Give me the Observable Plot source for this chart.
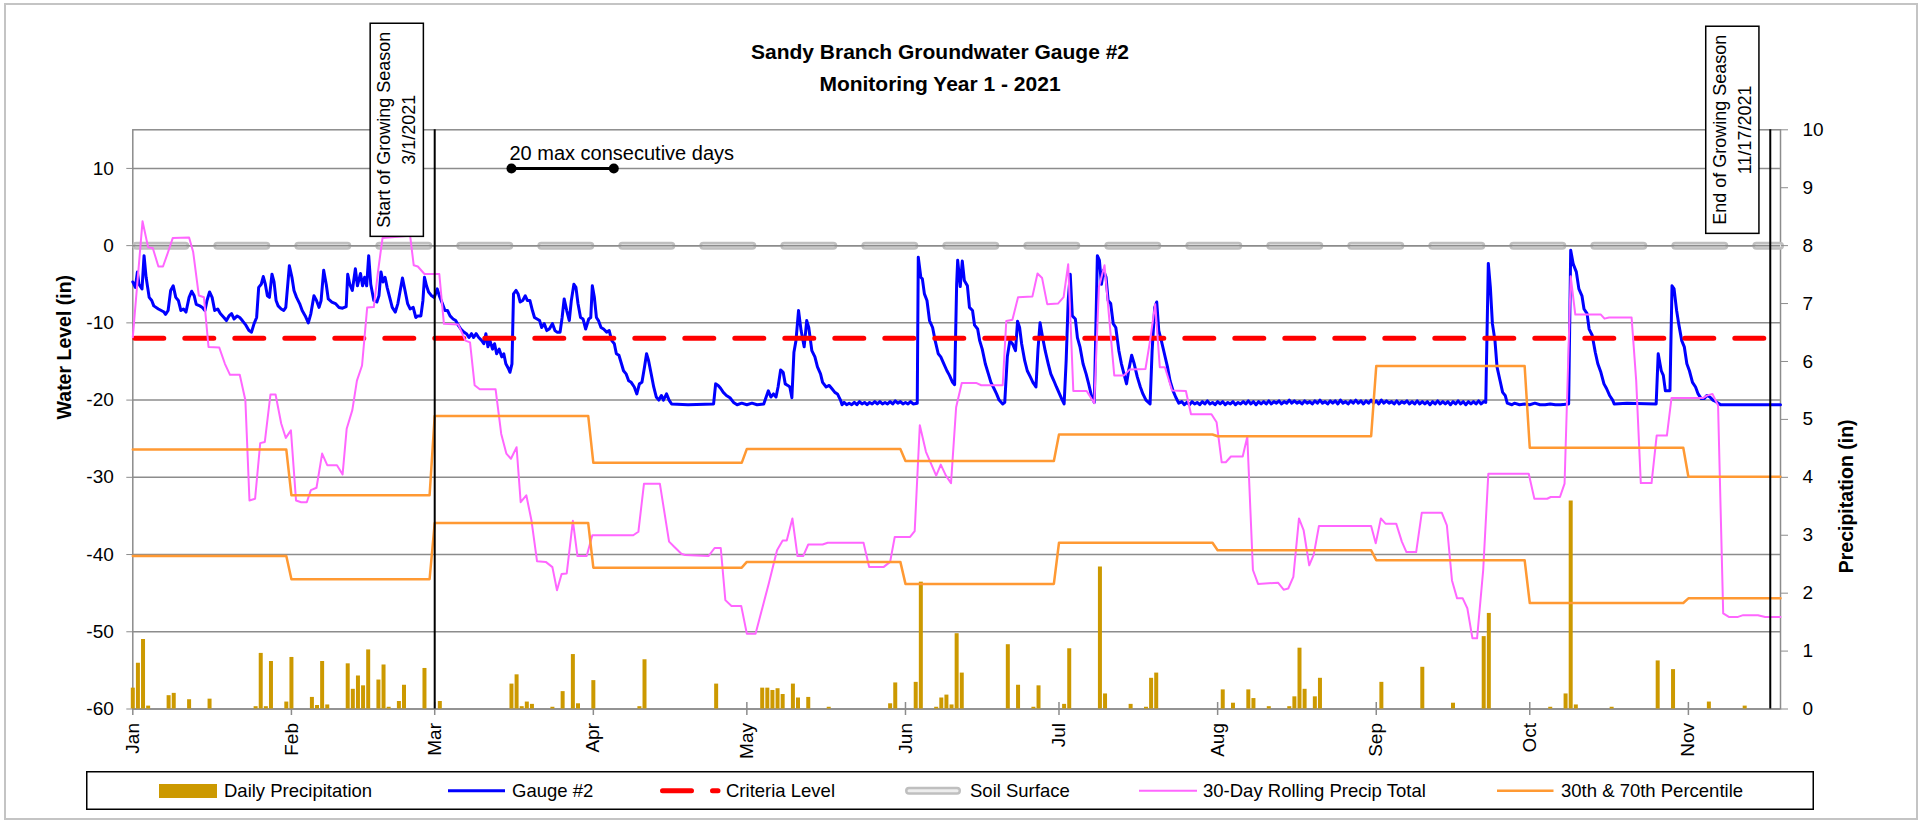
<!DOCTYPE html>
<html>
<head>
<meta charset="utf-8">
<script src="https://cdn.jsdelivr.net/npm/d3@7"></script>
<script src="https://cdn.jsdelivr.net/npm/@observablehq/plot@0.6"></script>
<style>
  html, body { margin: 0; padding: 0; background: #fff; }
  #chart { position: relative; width: 1927px; height: 821px; overflow: hidden; font-family: "Liberation Sans", Arial, sans-serif; }
  #plot { position: absolute; left: 0; top: 0; }
  #title { position: absolute; left: 640px; top: 36px; width: 600px; text-align: center; font-weight: bold; font-size: 21px; line-height: 32px; color: #000; }
  #legend { position: absolute; left: 86px; top: 771px; overflow: visible; }
  #border { position: absolute; left: 4px; top: 3px; width: 1910px; height: 813px; border: 2px solid #c4c4c4; pointer-events: none; }
</style>
</head>
<body>
<div id="chart">
  <div id="plot"></div>
  <div id="title">Sandy Branch Groundwater Gauge #2<br>Monitoring Year 1 - 2021</div>
  <svg id="legend" width="1728" height="39"></svg>
  <div id="border"></div>
</div>
<script>
// ---------------- DATA ----------------
// day = days since Jan 1, 2021
const leftTicks = [-60, -50, -40, -30, -20, -10, 0, 10];
const rightTicks = [0, 1, 2, 3, 4, 5, 6, 7, 8, 9, 10];
const monthStarts = ["2021-01-01","2021-02-01","2021-03-01","2021-04-01","2021-05-01","2021-06-01",
                     "2021-07-01","2021-08-01","2021-09-01","2021-10-01","2021-11-01"];
const soilSurface = 0;       // in
const criteriaLevel = -12;   // in
const seasonDates = ["2021-03-01", "2021-11-17"];
const seasonLabels = ["Start of Growing Season\n3/1/2021", "End of Growing Season\n11/17/2021"];
const consecStart = "2021-03-16", consecEnd = "2021-04-05", consecLevel = 10;
const consecLabel = "20 max consecutive days";

// Gauge #2 water level (in): [day, level]
const gaugeReadings = [
[0,-4.7],[0.5,-5.4],[0.9,-3.4],[1.2,-5.0],[1.8,-5.6],[2.2,-1.3],[2.6,-4.1],[3.2,-6.7],[3.7,-7.1],[4.1,-7.8],
[5.0,-8.2],[6.1,-8.6],[6.4,-8.9],[6.9,-8.4],[7.4,-5.8],[7.9,-5.2],[8.4,-6.7],[8.9,-7.1],[9.4,-8.4],[9.9,-8.2],
[10.4,-8.6],[11.0,-6.7],[11.5,-5.9],[12.0,-6.5],[12.4,-7.6],[13.1,-7.8],[13.6,-8.0],[14.1,-8.4],[14.5,-7.1],[15.0,-6.0],
[15.5,-6.7],[16.0,-8.4],[16.6,-8.2],[17.1,-8.8],[17.8,-9.3],[18.3,-9.7],[18.8,-9.1],[19.3,-8.8],[19.8,-9.5],[20.4,-9.1],
[20.9,-9.3],[21.4,-9.7],[22.1,-10.3],[22.7,-11.0],[23.2,-11.2],[23.7,-10.1],[24.2,-9.3],[24.6,-5.4],[25.1,-5.0],[25.5,-4.0],
[25.9,-5.0],[26.3,-6.5],[26.7,-6.7],[27.2,-3.7],[27.6,-4.7],[28.0,-7.1],[28.4,-7.8],[29.0,-8.2],[29.5,-8.4],[29.9,-8.0],
[30.6,-2.6],[31.1,-4.1],[31.5,-5.8],[32.0,-6.7],[32.6,-7.5],[33.1,-8.4],[33.7,-9.1],[34.3,-10.0],[34.8,-8.8],[35.4,-6.5],
[35.9,-7.1],[36.4,-8.0],[36.8,-7.1],[37.3,-3.2],[37.8,-5.0],[38.2,-6.9],[38.9,-7.3],[39.6,-7.5],[40.3,-8.0],[41.0,-8.1],
[41.7,-7.9],[42.0,-3.7],[42.4,-5.0],[42.9,-5.8],[43.5,-3.0],[43.9,-5.2],[44.5,-3.6],[44.9,-5.2],[45.3,-4.1],[45.7,-5.2],
[46.1,-1.3],[46.5,-5.0],[47.1,-7.1],[47.7,-7.3],[48.1,-6.5],[48.5,-3.4],[48.9,-4.7],[49.3,-4.1],[49.7,-5.4],[50.2,-6.7],
[50.7,-8.0],[51.3,-8.6],[51.8,-7.5],[52.7,-4.2],[53.2,-5.8],[53.7,-7.5],[54.2,-8.2],[54.8,-8.0],[55.3,-9.3],[55.7,-9.1],
[56.3,-9.1],[56.7,-7.1],[57.0,-4.1],[57.4,-5.2],[57.8,-6.0],[58.4,-6.5],[58.9,-6.7],[59.5,-5.6],[59.9,-6.5],[60.5,-7.5],
[61.0,-8.4],[61.5,-8.4],[62.0,-9.1],[62.6,-9.5],[63.1,-9.7],[63.6,-10.3],[64.1,-10.8],[64.7,-11.2],[65.2,-11.4],[65.7,-11.9],
[66.2,-11.4],[66.6,-11.9],[67.1,-11.4],[67.6,-11.9],[68.2,-12.3],[68.6,-12.7],[69.0,-11.4],[69.4,-13.1],[69.8,-12.3],[70.3,-13.4],
[70.7,-12.7],[71.1,-14.0],[71.6,-13.4],[72.1,-14.4],[72.5,-14.0],[72.9,-15.3],[73.4,-15.9],[73.7,-16.4],[74.1,-15.3],[74.4,-6.25],
[74.9,-5.8],[75.3,-6.25],[75.7,-7.3],[76.2,-7.1],[76.7,-6.5],[77.1,-7.1],[77.6,-7.1],[78.1,-8.4],[78.5,-9.3],[79.0,-9.5],
[79.5,-9.7],[79.9,-10.6],[80.4,-10.1],[80.9,-11.0],[81.4,-10.8],[82.0,-10.1],[82.5,-11.0],[82.9,-11.2],[83.5,-11.2],[83.9,-9.3],
[84.3,-6.9],[84.8,-8.4],[85.3,-9.7],[85.7,-7.1],[86.2,-5.0],[86.6,-5.4],[87.0,-7.5],[87.5,-9.3],[88.0,-9.5],[88.5,-10.8],
[89.1,-9.5],[89.5,-9.3],[89.8,-5.2],[90.2,-6.7],[90.6,-9.3],[91.0,-9.7],[91.5,-10.6],[92.0,-10.8],[92.6,-11.2],[93.1,-11.0],
[93.6,-12.3],[94.1,-12.7],[94.5,-14.0],[95.0,-14.2],[95.5,-15.3],[95.9,-16.2],[96.4,-16.6],[96.9,-17.5],[97.4,-17.7],[98.0,-18.3],
[98.5,-19.2],[99.0,-17.9],[99.5,-17.7],[100.0,-15.7],[100.4,-14.0],[100.8,-14.9],[101.3,-16.6],[101.8,-18.3],[102.3,-19.6],[102.8,-20.0],
[103.3,-19.4],[103.7,-20.0],[104.3,-19.2],[104.8,-20.0],[105.3,-20.5],[108.5,-20.6],[113.5,-20.5],[113.9,-17.9],[114.4,-18.1],[114.9,-18.5],
[115.4,-19.0],[116.0,-19.4],[116.7,-19.7],[117.4,-20.3],[118.1,-20.6],[119,-20.4],[120,-20.6],[121,-20.4],[122,-20.6],[123.3,-20.5],
[124.2,-18.8],[124.7,-19.6],[125.2,-19.2],[125.7,-19.6],[126.1,-18.3],[126.6,-16.1],[127.1,-16.4],[127.5,-17.9],[128.0,-18.1],[128.4,-18.3],
[128.8,-19.7],[129.2,-13.8],[129.6,-12.3],[130.1,-8.4],[130.6,-11.0],[131.2,-13.1],[131.7,-9.7],[132.1,-10.6],[132.7,-13.6],[133.3,-14.4],
[133.8,-15.7],[134.4,-16.6],[134.8,-17.7],[135.5,-18.3],[136.1,-18.1],[136.6,-18.5],[137.2,-19.0],[137.7,-19.2],[138.3,-20.0],[138.6,-20.6],
[139,-20.3],[139.5,-20.6],[140,-20.4],[140.5,-20.6],[141,-20.3],[141.5,-20.6],[142,-20.2],[142.5,-20.5],[143,-20.3],[143.5,-20.6],
[144,-20.3],[144.5,-20.5],[145,-20.2],[145.5,-20.5],[146,-20.2],[146.5,-20.5],[147,-20.3],[147.5,-20.5],[148,-20.2],[148.5,-20.5],
[149,-20.1],[149.5,-20.4],[150,-20.2],[150.5,-20.5],[151,-20.3],[151.5,-20.5],[152,-20.2],[152.5,-20.5],[153.3,-20.4],[153.5,-1.5],
[154.0,-4.1],[154.3,-4.3],[154.7,-6.25],[155.2,-7.1],[155.7,-9.7],[156.3,-10.6],[156.8,-12.3],[157.4,-14.0],[157.9,-14.4],[158.5,-15.3],
[159.1,-16.2],[159.6,-16.8],[160.2,-17.7],[160.6,-18.0],[161.0,-5.0],[161.2,-1.9],[161.4,-3.2],[161.7,-5.3],[162.1,-2.0],[162.5,-4.5],
[163.1,-5.2],[163.5,-8.0],[164.1,-8.4],[164.5,-10.3],[165.1,-10.8],[165.5,-12.3],[166.0,-13.4],[166.6,-15.3],[167.2,-16.6],[167.7,-17.7],
[168.3,-18.5],[168.8,-19.2],[169.3,-20.0],[170.0,-20.5],[170.4,-20.3],[170.9,-14.4],[171.4,-12.3],[171.9,-12.7],[172.5,-13.6],[172.9,-9.8],
[173.3,-10.6],[173.7,-12.7],[174.3,-14.9],[174.8,-16.2],[175.4,-17.0],[175.9,-17.7],[176.5,-18.3],[176.9,-13.4],[177.3,-10.0],[177.8,-11.9],
[178.3,-13.6],[178.9,-15.3],[179.4,-16.6],[180.0,-17.5],[180.5,-18.3],[181.1,-19.2],[181.5,-19.8],[182.0,-20.5],[182.4,-14.9],[182.8,-7.1],
[183.2,-3.7],[183.6,-9.1],[184.2,-9.5],[184.6,-11.9],[185.1,-13.1],[185.7,-15.3],[186.3,-16.6],[186.8,-17.9],[187.4,-19.6],[187.9,-20.3],
[188.5,-1.3],[188.9,-1.9],[189.3,-5.0],[189.7,-3.2],[190.2,-4.1],[190.6,-7.1],[191.1,-7.5],[191.6,-10.1],[192.1,-10.6],[192.7,-13.6],
[193.2,-15.3],[193.7,-16.6],[194.2,-17.9],[194.6,-16.2],[195.2,-14.2],[195.7,-15.3],[196.3,-17.0],[196.9,-18.3],[197.4,-19.2],[198.0,-20.0],
[198.8,-20.5],[199.2,-13.6],[199.7,-8.0],[200.1,-7.3],[200.5,-11.0],[201.0,-12.3],[201.6,-14.0],[202.2,-15.7],[202.7,-17.5],[203.3,-18.8],
[203.8,-19.6],[204.4,-20.4],
[205,-20.2],[205.5,-20.6],[206,-20.3],[206.5,-20.6],[207,-20.2],[207.5,-20.5],[208,-20.3],[208.5,-20.6],[209,-20.2],[209.5,-20.5],
[210,-20.1],[210.5,-20.5],[211,-20.3],[211.5,-20.6],[212,-20.2],[212.5,-20.5],[213,-20.2],[213.5,-20.6],[214,-20.3],[214.5,-20.5],
[215,-20.2],[215.5,-20.6],[216,-20.3],[216.5,-20.5],[217,-20.2],[217.5,-20.5],[218,-20.1],[218.5,-20.5],[219,-20.2],[219.5,-20.6],
[220,-20.2],[220.5,-20.5],[221,-20.2],[221.5,-20.5],[222,-20.1],[222.5,-20.5],[223,-20.2],[223.5,-20.4],[224,-20.1],[224.5,-20.5],
[225,-20.2],[225.5,-20.4],[226,-20.0],[226.5,-20.4],[227,-20.1],[227.5,-20.4],[228,-20.2],[228.5,-20.5],[229,-20.1],[229.5,-20.4],
[230,-20.2],[230.5,-20.5],[231,-20.1],[231.5,-20.4],[232,-20.0],[232.5,-20.4],[233,-20.2],[233.5,-20.5],[234,-20.1],[234.5,-20.4],
[235,-20.1],[235.5,-20.5],[236,-20.0],[236.5,-20.4],[237,-20.2],[237.5,-20.5],[238,-20.1],[238.5,-20.4],[239,-20.0],[239.5,-20.4],
[240,-20.1],[240.5,-20.5],[241,-20.1],[241.5,-20.4],[242,-20.0],[242.5,-20.4],[243,-20.1],[243.5,-20.5],[244,-20.0],[244.5,-20.4],
[245,-20.1],[245.5,-20.4],[246,-20.2],[246.5,-20.5],[247,-20.1],[247.5,-20.5],[248,-20.2],[248.5,-20.4],[249,-20.1],[249.5,-20.5],
[250,-20.2],[250.5,-20.5],[251,-20.1],[251.5,-20.5],[252,-20.2],[252.5,-20.5],[253,-20.2],[253.5,-20.6],[254,-20.2],[254.5,-20.5],
[255,-20.1],[255.5,-20.5],[256,-20.2],[256.5,-20.5],[257,-20.2],[257.5,-20.6],[258,-20.2],[258.5,-20.5],[259,-20.1],[259.5,-20.5],
[260,-20.2],[260.5,-20.6],[261,-20.2],[261.5,-20.5],[262,-20.2],[262.5,-20.5],[263,-20.1],[263.5,-20.5],[264,-20.2],[264.4,-20.3],
[264.9,-2.3],[265.3,-5.4],[265.7,-10.1],[266.2,-12.3],[266.6,-15.7],[267.2,-17.5],[267.7,-19.0],[268.2,-19.4],[268.6,-20.4],[269.5,-20.6],
[270,-20.4],[271,-20.6],[272,-20.5],[273,-20.6],[274,-20.4],[275,-20.6],[276,-20.6],[277,-20.5],[278,-20.6],[279,-20.6],
[280.6,-20.5],[281.0,-0.6],[281.5,-2.4],[282.1,-3.4],[282.6,-5.6],[283.2,-6.5],[283.6,-8.2],[284.2,-8.8],[284.6,-10.8],[285.2,-11.6],
[285.8,-13.8],[286.3,-15.3],[286.9,-16.4],[287.5,-17.9],[288.0,-18.5],[288.6,-19.4],[289.2,-20.0],[289.5,-20.5],[292,-20.4],[297.7,-20.5],
[298.1,-14.0],[298.7,-16.2],[299.1,-16.8],[299.5,-18.8],[300.4,-18.8],[300.8,-5.2],[301.2,-5.6],[301.7,-8.4],[302.1,-10.1],[302.7,-12.3],
[303.2,-13.1],[303.7,-15.3],[304.2,-16.2],[304.8,-17.7],[305.4,-18.3],[305.9,-19.2],[306.5,-19.8],[307.1,-19.8],[307.6,-19.4],[308.2,-19.6],
[308.8,-20.0],[309.4,-20.2],[310.3,-20.6],[322,-20.6]
];

// 30-Day rolling precipitation total (in): [day, total]
const rollingReadings = [
[0,6.42],[1.9,8.42],[3.0,7.97],[3.9,7.96],[5.0,7.64],[5.9,7.64],[6.9,7.89],[7.8,8.13],[11.0,8.14],[11.8,7.89],
[12.9,7.14],[13.9,7.11],[14.8,6.25],[16.9,6.24],[18.0,5.96],[19.0,5.77],[20.9,5.77],[22.0,5.33],[22.8,3.60],[23.9,3.63],
[24.9,4.59],[25.8,4.61],[26.9,5.43],[27.9,5.43],[29.0,4.93],[29.9,4.68],[30.9,4.81],[31.9,3.60],[32.9,3.57],[34.0,3.57],
[34.8,3.78],[35.9,3.82],[37.0,4.41],[38.0,4.21],[39.9,4.21],[41.0,4.05],[41.8,4.84],[42.9,5.16],[43.8,5.67],[44.8,5.93],
[45.8,6.93],[47.1,6.94],[47.9,7.54],[48.8,8.13],[54.2,8.17],[54.9,7.66],[55.7,7.64],[57.0,7.51],[59.9,7.51],[60.8,6.65],
[63.6,6.64],[65.0,6.36],[65.9,6.33],[66.8,5.59],[67.8,5.52],[70.9,5.52],[72.0,4.75],[73.0,4.41],[73.9,4.32],[75.0,4.52],
[75.8,3.57],[76.9,3.69],[77.9,3.26],[79.0,2.55],[80.7,2.54],[82.0,2.45],[82.9,2.05],[83.8,2.33],[84.8,2.34],[86.0,3.25],
[86.9,2.64],[88.7,2.64],[89.8,3.00],[97.8,3.00],[98.8,3.06],[99.9,3.89],[103.0,3.89],[104.8,2.89],[105.8,2.80],[107.2,2.68],
[107.9,2.66],[112.5,2.64],[113.7,2.78],[114.9,2.78],[115.8,1.88],[117.0,1.78],[118.9,1.78],[120.0,1.30],[121.7,1.30],[124.3,2.17],
[125.9,2.74],[127.0,2.91],[127.8,2.91],[128.9,3.29],[129.9,2.64],[131.0,2.64],[132.0,2.84],[134.8,2.84],[135.8,2.87],[142.8,2.87],
[143.9,2.45],[146.7,2.45],[148.0,2.54],[148.9,2.97],[151.9,2.97],[152.8,3.07],[153.8,4.90],[155.0,4.44],[157.0,4.03],[157.9,4.22],
[158.9,4.03],[159.9,3.90],[160.9,5.21],[162.0,5.63],[164.8,5.63],[165.8,5.59],[170.0,5.59],[170.7,6.70],[171.9,6.72],[173.0,7.11],
[175.8,7.12],[176.8,7.52],[177.7,7.44],[178.7,6.99],[180.8,7.00],[181.9,7.11],[182.8,7.68],[183.8,5.49],[186.4,5.49],[187.9,5.28],
[188.8,7.28],[189.9,7.66],[191.8,5.76],[193.7,5.76],[194.8,5.86],[197.9,5.87],[198.8,6.36],[199.8,6.99],[200.7,5.90],[201.7,5.90],
[203.1,5.50],[205.8,5.49],[206.8,5.09],[210.8,5.09],[211.8,4.95],[212.8,4.26],[213.6,4.26],[214.6,4.36],[216.9,4.36],[217.8,4.70],
[218.9,2.40],[219.9,2.16],[223.8,2.18],[224.9,2.06],[225.8,2.08],[226.8,2.28],[227.9,3.29],[228.8,3.09],[229.9,2.48],[230.8,2.67],
[231.8,3.16],[242.0,3.16],[242.9,2.86],[243.9,3.29],[244.8,3.20],[246.9,3.20],[248.0,2.89],[248.9,2.71],[250.8,2.71],[251.9,3.39],
[255.8,3.39],[256.8,3.17],[257.8,2.22],[258.8,1.91],[259.9,1.91],[260.8,1.74],[261.8,1.22],[262.7,1.22],[263.9,2.40],[264.9,4.06],
[272.8,4.06],[273.9,3.63],[276.4,3.63],[277.1,3.66],[278.9,3.66],[279.8,3.89],[281.0,7.47],[281.9,6.81],[286.9,6.81],[287.6,6.74],
[288.5,6.76],[292.9,6.76],[293.8,5.67],[294.7,3.90],[296.8,3.90],[297.8,4.72],[299.8,4.72],[300.7,5.37],[306.9,5.37],[307.6,5.41],
[308.7,5.44],[309.8,5.24],[310.8,1.65],[311.9,1.59],[313.7,1.59],[314.7,1.62],[317.6,1.62],[319.0,1.59],[322,1.59]
];

// Daily precipitation (in): [day, inches]
const precipReadings = [
[0,0.36],[1,0.79],[2,1.20],[3,0.05],[7,0.23],[8,0.27],[11,0.16],[15,0.17],[24,0.04],[25,0.96],
[26,0.04],[27,0.82],[30,0.12],[31,0.89],[35,0.20],[36,0.06],[37,0.82],[38,0.07],[42,0.78],[43,0.34],
[44,0.57],[45,0.40],[46,1.02],[48,0.50],[49,0.76],[50,0.03],[52,0.13],[53,0.41],[57,0.70],[60,0.13],
[74,0.43],[75,0.59],[76,0.04],[77,0.12],[78,0.08],[82,0.03],[84,0.30],[86,0.94],[87,0.09],[90,0.49],
[99,0.04],[100,0.85],[114,0.43],[123,0.36],[124,0.36],[125,0.32],[126,0.35],[127,0.25],[129,0.43],[130,0.19],
[132,0.20],[136,0.03],[148,0.09],[149,0.45],[153,0.46],[154,2.19],[157,0.03],[158,0.19],[159,0.24],[160,0.07],
[161,1.30],[162,0.62],[171,1.11],[173,0.41],[176,0.03],[177,0.40],[182,0.08],[183,1.04],[189,2.45],[190,0.26],
[195,0.08],[198,0.03],[199,0.53],[200,0.62],[213,0.33],[215,0.10],[218,0.33],[219,0.18],[222,0.04],[226,0.04],
[227,0.21],[228,1.05],[229,0.34],[231,0.21],[232,0.53],[244,0.46],[252,0.72],[258,0.10],[264,1.25],[265,1.65],
[277,0.03],[280,0.26],[281,3.59],[282,0.07],[289,0.03],[298,0.83],[301,0.68],[308,0.12],[315,0.05]
];

// Monthly 30th & 70th percentile of 30-day rolling precipitation (in), Jan..Nov
const pct70 = [4.48, 3.69, 5.06, 4.25, 4.49, 4.28, 4.74, 4.71, 5.92, 4.51, 4.01];
const pct30 = [2.64, 2.24, 3.21, 2.44, 2.54, 2.16, 2.87, 2.74, 2.57, 1.83, 1.91];
const lastDay = 322;

// ---------------- BUILD ----------------
const Y0 = Date.UTC(2021, 0, 1);
const dateOf = d => new Date(Y0 + d * 864e5);
const toLeft = p => p * 7.5 - 60;      // precipitation axis (0–10) shares the frame with level axis (−60–15)

const gauge = gaugeReadings.map(([d, v]) => ({date: dateOf(d), v}));
const rolling = rollingReadings.map(([d, p]) => ({date: dateOf(d), v: toLeft(p)}));
const precip = precipReadings.map(([d, p]) => ({date: dateOf(d), v: toLeft(p)}));
const pctSeries = (arr) => d3.range(0, lastDay + 1).map(d => ({date: dateOf(d), v: toLeft(arr[dateOf(d).getUTCMonth()])}));
const p70 = pctSeries(pct70), p30 = pctSeries(pct30);
const months = monthStarts.map(s => new Date(s));
const seasons = seasonDates.map((s, i) => ({date: new Date(s), label: seasonLabels[i]}));
const consec = [{x1: new Date(consecStart), x2: new Date(consecEnd), y: consecLevel}];
const consecEnds = [{date: new Date(consecStart)}, {date: new Date(consecEnd)}];

const FONT = '"Liberation Sans", Arial, sans-serif';
const GRID = "#8c8c8c";

const chart = Plot.plot({
  width: 1927, height: 770,
  marginLeft: 132.3, marginRight: 147, marginTop: 129.3, marginBottom: 61.5,
  x: {type: "utc", domain: [dateOf(0), dateOf(lastDay)]},
  y: {domain: [-60, 15]},
  style: {background: "transparent", overflow: "visible", fontFamily: FONT, fontSize: "19px", color: "#000"},
  marks: [
    Plot.gridY(leftTicks, {stroke: GRID, strokeOpacity: 1, strokeWidth: 1.5}),
    Plot.frame({stroke: GRID, strokeWidth: 1.5}),
    // x tick marks crossing the axis
    Plot.ruleX(months, {x: d => d, y1: -60, y2: -60, insetTop: 6.5, insetBottom: 6.5, stroke: GRID, strokeWidth: 1.5}),
    // daily precipitation bars
    Plot.ruleX(precip, {x: "date", y1: -60, y2: "v", stroke: "#cc9900", strokeWidth: 4}),
    // gauge
    Plot.line(gauge, {x: "date", y: "v", stroke: "#0000ff", strokeWidth: 3}),
    // criteria level
    Plot.ruleY([criteriaLevel], {stroke: "#ff0000", strokeWidth: 5, strokeDasharray: "29,21", strokeDashoffset: 47.5, strokeLinecap: "round"}),
    // soil surface (compound line)
    Plot.ruleY([soilSurface], {stroke: "#bfbfbf", strokeWidth: 8, strokeDasharray: "49,32", strokeDashoffset: 77, strokeLinecap: "round"}),
    Plot.ruleY([soilSurface], {stroke: "#e4e4e4", strokeWidth: 3, strokeDasharray: "49,32", strokeDashoffset: 77, strokeLinecap: "round"}),
    Plot.ruleY([soilSurface], {stroke: GRID, strokeWidth: 1.5}),
    // 30-day rolling total & percentiles
    Plot.line(rolling, {x: "date", y: "v", stroke: "#ff66ff", strokeWidth: 2}),
    Plot.line(p70, {x: "date", y: "v", stroke: "#ff9933", strokeWidth: 2.5}),
    Plot.line(p30, {x: "date", y: "v", stroke: "#ff9933", strokeWidth: 2.5}),
    // growing season
    Plot.ruleX(seasons, {x: "date", stroke: "#000", strokeWidth: 2}),
    Plot.text(seasons, {x: "date", frameAnchor: "top", text: "label", rotate: -90, dx: -40, fontSize: 18,
      lineHeight: 1.4, textAnchor: "middle", lineAnchor: "middle", fill: "#000"}),
    // max consecutive days
    Plot.link(consec, {x1: "x1", x2: "x2", y1: "y", y2: "y", stroke: "#000", strokeWidth: 3}),
    Plot.dot(consecEnds, {x: "date", y: consecLevel, r: 5, fill: "#000"}),
    Plot.text([consecLabel], {x: () => new Date(consecStart), y: consecLevel, text: d => d, dy: -15, dx: -2,
      textAnchor: "start", fontSize: 20, fill: "#000"}),
    // axes
    Plot.axisY(leftTicks, {anchor: "left", tickSize: 6, tickPadding: 13, stroke: GRID, tickFormat: d => String(d), label: null, fontSize: 19}),
    Plot.axisY(rightTicks.map(toLeft), {anchor: "right", tickSize: 7, tickPadding: 15, stroke: GRID,
      tickFormat: v => String(Math.round((v + 60) / 7.5)), label: null, fontSize: 19}),
    Plot.axisX(months, {tickFormat: d3.utcFormat("%b"), tickRotate: -90, tickSize: 0, tickPadding: 14, label: null, fontSize: 19}),
    Plot.text(["Water Level (in)"], {frameAnchor: "left", text: d => d, dx: -67.6, rotate: -90, fontWeight: "bold", fontSize: 19.5, fill: "#000"}),
    Plot.text(["Precipitation (in)"], {frameAnchor: "right", text: d => d, dx: 66, rotate: -90, fontWeight: "bold", fontSize: 19.5, fill: "#000"})
  ]
});
document.getElementById("plot").appendChild(chart);

// boxes behind the growing-season notes
const SVGNS = "http://www.w3.org/2000/svg";
Array.from(chart.querySelectorAll("text"))
  .filter(t => /Growing Season/.test(t.textContent))
  .forEach(t => {
    const bb = t.getBBox();
    const r = document.createElementNS(SVGNS, "rect");
    r.setAttribute("x", bb.x - 8.5);
    r.setAttribute("y", bb.y - 4);
    r.setAttribute("width", bb.width + 17);
    r.setAttribute("height", bb.height + 8);
    r.setAttribute("fill", "#fff");
    r.setAttribute("stroke", "#000");
    r.setAttribute("stroke-width", 1.5);
    const tr = t.getAttribute("transform");
    if (tr) r.setAttribute("transform", tr);
    t.parentNode.insertBefore(r, t);
  });

// ---------------- LEGEND ----------------
const lg = d3.select("#legend");
lg.append("rect").attr("x", 0.75).attr("y", 0.75).attr("width", 1726.5).attr("height", 37.5)
  .attr("fill", "#fff").attr("stroke", "#000").attr("stroke-width", 1.5);
const cy = 19.7;
lg.append("rect").attr("x", 73).attr("y", 13).attr("width", 58).attr("height", 14).attr("fill", "#cc9900");
lg.append("line").attr("x1", 362).attr("x2", 419).attr("y1", cy).attr("y2", cy).attr("stroke", "#0000ff").attr("stroke-width", 3);
lg.append("line").attr("x1", 576.5).attr("x2", 632).attr("y1", cy).attr("y2", cy).attr("stroke", "#ff0000")
  .attr("stroke-width", 5).attr("stroke-dasharray", "29,21").attr("stroke-linecap", "round");
lg.append("line").attr("x1", 823).attr("x2", 871).attr("y1", cy).attr("y2", cy).attr("stroke", "#bfbfbf")
  .attr("stroke-width", 8).attr("stroke-linecap", "round");
lg.append("line").attr("x1", 823).attr("x2", 871).attr("y1", cy).attr("y2", cy).attr("stroke", "#ededed")
  .attr("stroke-width", 3).attr("stroke-linecap", "round");
lg.append("line").attr("x1", 1053).attr("x2", 1111).attr("y1", cy).attr("y2", cy).attr("stroke", "#ff66ff").attr("stroke-width", 2);
lg.append("line").attr("x1", 1411).attr("x2", 1467.5).attr("y1", cy).attr("y2", cy).attr("stroke", "#ff9933").attr("stroke-width", 2.5);
const legendItems = [["Daily Precipitation", 138], ["Gauge #2", 426], ["Criteria Level", 640], ["Soil Surface", 884],
                     ["30-Day Rolling Precip Total", 1117], ["30th & 70th Percentile", 1475]];
lg.selectAll("text.item").data(legendItems).join("text").attr("class", "item")
  .attr("x", d => d[1]).attr("y", cy).attr("dominant-baseline", "central")
  .attr("font-family", FONT).attr("font-size", 18.5).attr("fill", "#000").text(d => d[0]);
</script>
</body>
</html>
